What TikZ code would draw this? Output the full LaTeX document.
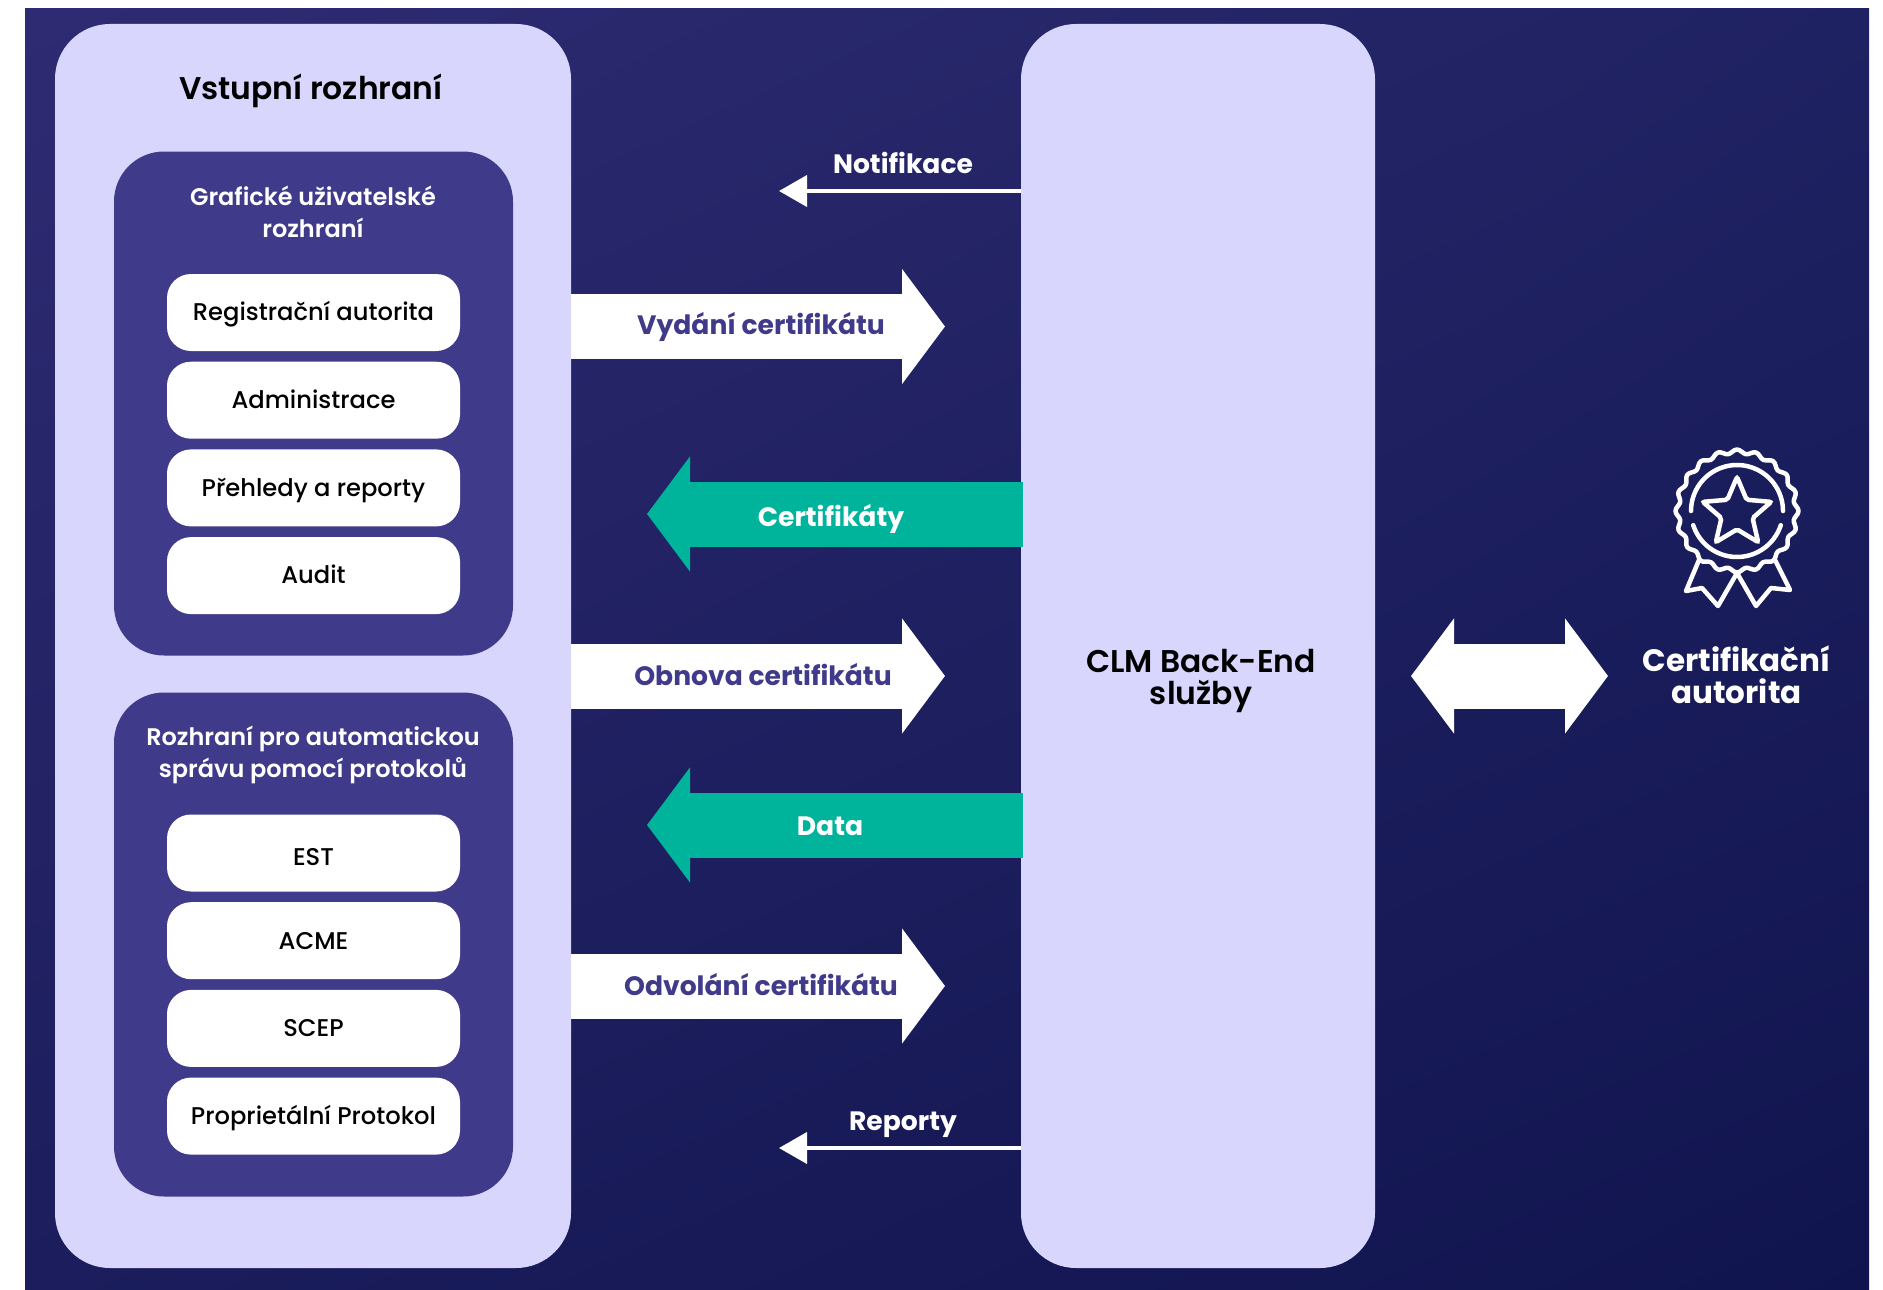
\documentclass[tikz,border=0pt]{standalone}
\usepackage{fontspec}
\setmainfont{Poppins}
\newfontfamily\medfont{Poppins Medium}
\newfontfamily\semifont{Poppins SemiBold}
\usetikzlibrary{shapes.geometric, arrows.meta, positioning, shadings}
\definecolor{panelc}{HTML}{D9D6FE}
\definecolor{groupc}{HTML}{403A8B}
\definecolor{tealc}{HTML}{00B49C}
\definecolor{bgul}{HTML}{2F2B73}
\definecolor{bgur}{HTML}{1F2262}
\definecolor{bgll}{HTML}{1B1D5C}
\definecolor{bglr}{HTML}{10144E}
\tikzstyle{panel} = [
    rectangle,
    rounded corners=55pt,
    fill=panelc
]
\tikzstyle{group} = [
    rectangle,
    rounded corners=50pt,
    minimum width=399pt,
    minimum height=504pt,
    fill=groupc
]
\tikzstyle{item} = [
    rectangle,
    rounded corners=24pt,
    minimum width=293pt,
    minimum height=77pt,
    fill=white,
    text=black,
    text height=20pt,
    text depth=3.4pt,
    inner sep=0pt,
    font=\medfont\fontsize{24.2}{28}\selectfont
]
\tikzstyle{grouptitle} = [
    text=white,
    align=center,
    inner sep=0pt,
    font=\semifont\fontsize{24}{32}\selectfont
]
\tikzstyle{bigtitle} = [
    text=black,
    align=center,
    inner sep=0pt,
    font=\semifont\fontsize{31.4}{32}\selectfont
]
\tikzstyle{arrowlabel} = [
    inner sep=0pt,
    font=\bfseries\fontsize{26.6}{30}\selectfont
]
\tikzstyle{thinarrow} = [
    draw=white,
    line width=4pt,
    -{Triangle[length=28pt,width=31pt]}
]
\tikzstyle{bigarrow} = [
    line width=65pt,
    -{Triangle[length=43pt,width=113pt]}
]
\tikzstyle{iconline} = [draw=white, line width=4.5pt, line join=round, line cap=round]

\begin{document}
\begin{tikzpicture}[x=1pt, y=-1pt, node distance=87.7pt]
\useasboundingbox (0,0) rectangle (1883,1290);

% Background
\shade [upper left=bgul, upper right=bgur, lower left=bgll, lower right=bglr] (25,9) rectangle (1869,1290);

% Nodes
\node (inputs) [panel, minimum width=516pt, minimum height=1244pt] at (313,646) {};
\node (backend) [panel, minimum width=354pt, minimum height=1244pt] at (1198,646) {};
\node (backendtitle) [bigtitle] at (1201,681) {CLM Back-End\\služby};
\node (inputstitle) [bigtitle] at (311,90.5) {Vstupní rozhraní};

\node (gui) [group] at (313.5,403.5) {};
\node (guititle) [grouptitle] at (313,212) {Grafické uživatelské\\rozhraní};
\node (ra) [item] at (313.5,312.5) {Registrační autorita};
\node (admin) [item, below of=ra] {Administrace};
\node (reports) [item, below of=admin] {Přehledy a reporty};
\node (audit) [item, below of=reports] {Audit};

\node (proto) [group] at (313.5,944.5) {};
\node (prototitle) [grouptitle] at (313,755) {Rozhraní pro automatickou\\správu pomocí protokolů};
\node (est) [item, text height=24pt, text depth=0pt] at (313.5,853) {EST};
\node (acme) [item, below of=est] {ACME};
\node (scep) [item, below of=acme] {SCEP};
\node (own) [item, below of=scep] {Proprietální Protokol};

\node (ca) [grouptitle, font=\bfseries\fontsize{31}{32}\selectfont] at (1736.5,675) {Certifikační\\autorita};

% Arrow ends
\coordinate (notifend) at (779,191);
\coordinate (issuefrom) at (inputs.east |- 0,326.5);
\coordinate (issueto) at (945,326.5);
\coordinate (certsto) at (647,514);
\coordinate (renewfrom) at (inputs.east |- 0,676);
\coordinate (renewto) at (945,676);
\coordinate (datato) at (647,825);
\coordinate (revokefrom) at (inputs.east |- 0,986);
\coordinate (revoketo) at (945,986);
\coordinate (reportend) at (779,1148);
\coordinate (cafrom) at (1411,676);
\coordinate (cato) at (1608,676);

% Arrows
\draw [thinarrow] (backend.west |- notifend) -- (notifend);
\draw [thinarrow] (backend.west |- reportend) -- (reportend);
\draw [bigarrow, white] (issuefrom) -- (issueto);
\draw [bigarrow, white] (renewfrom) -- (renewto);
\draw [bigarrow, white] (revokefrom) -- (revoketo);
\draw [bigarrow, tealc] ([xshift=2pt]backend.west |- certsto) -- (certsto);
\draw [bigarrow, tealc] ([xshift=2pt]backend.west |- datato) -- (datato);
\draw [line width=65pt, white, {Triangle[length=43pt,width=113pt]}-{Triangle[length=43pt,width=113pt]}] (cafrom) -- (cato);

% Labels
\node (notiflabel) [arrowlabel, text=white] at (903,163) {Notifikace};
\node (issuelabel) [arrowlabel, text=groupc] at (761,327) {Vydání certifikátu};
\node (certslabel) [arrowlabel, text=white] at (831,519) {Certifikáty};
\node (renewlabel) [arrowlabel, text=groupc] at (763,675) {Obnova certifikátu};
\node (datalabel) [arrowlabel, text=white] at (830,826) {Data};
\node (revokelabel) [arrowlabel, text=groupc] at (761,985) {Odvolání certifikátu};
\node (reportlabel) [arrowlabel, text=white] at (903,1125) {Reporty};

% Icon
\begin{scope}[shift={(1737,511)}]
\draw [iconline] plot [domain=0:360, samples=161, smooth] (\x:{59.5+2*cos(20*\x)}) -- cycle;
\draw [iconline] plot [domain=18:162, samples=40, smooth] (\x:46);
\draw [iconline] plot [domain=180:360, samples=50, smooth] (\x:46);
\node (star) [star, star points=5, star point ratio=2.2, minimum size=72pt, draw=white, line width=4.5pt, rounded corners=2pt, inner sep=0pt] at (0,2) {};
\draw [iconline] (-38,49) -- (-51,80) -- (-35,77) -- (-19,95) -- (0,62) -- (19,95) -- (34,77) -- (53,79) -- (38,49);
\end{scope}

\end{tikzpicture}
\end{document}
